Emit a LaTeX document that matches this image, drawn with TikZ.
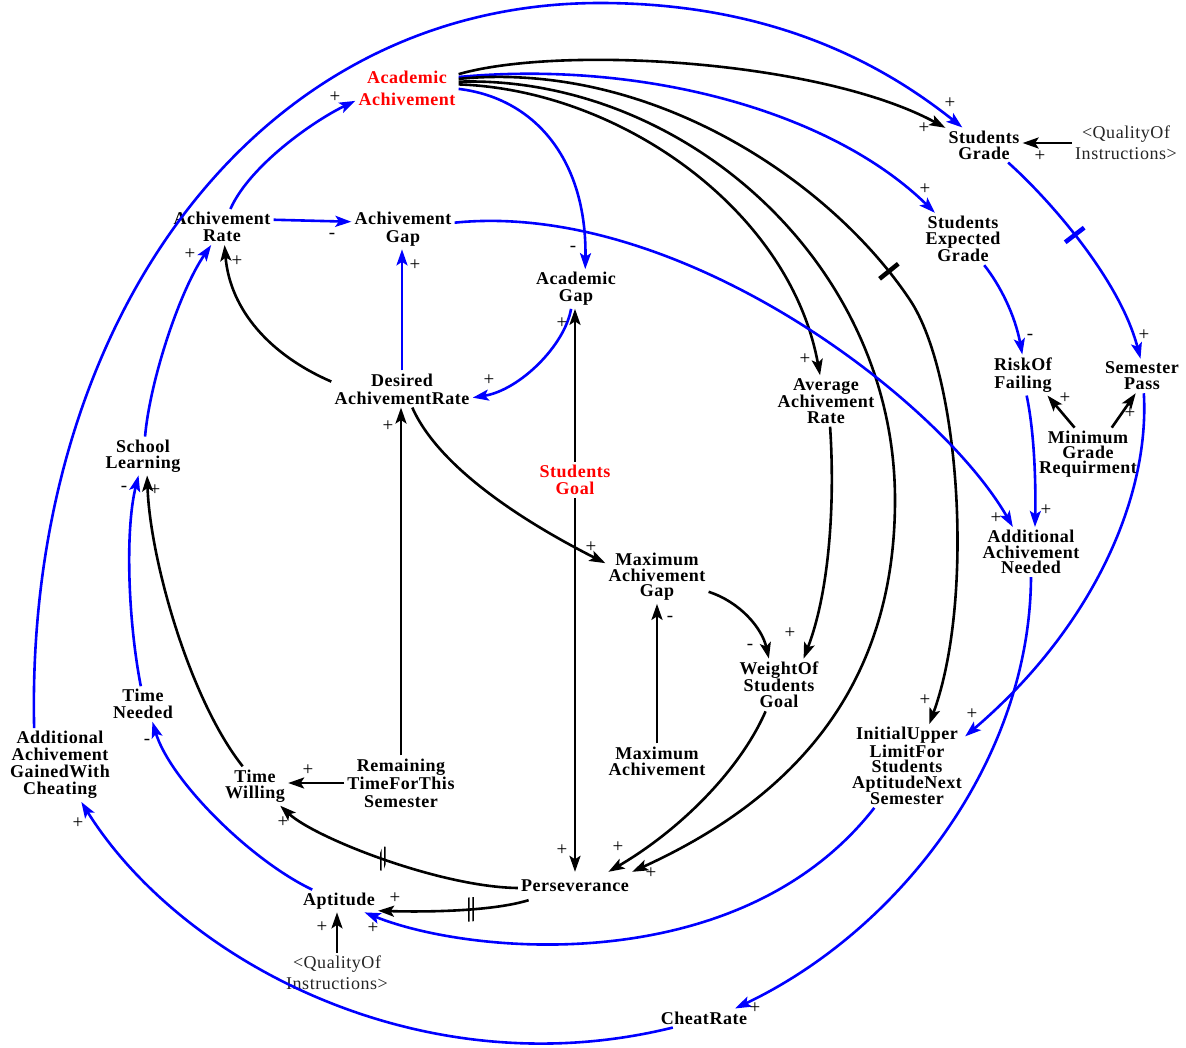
\documentclass[tikz,border=0pt]{standalone}
\usepackage{fontspec}
\setmainfont{Liberation Serif}[LetterSpace=3]
\usetikzlibrary{arrows.meta}
\definecolor{linkblue}{RGB}{0,0,255}
\definecolor{varred}{RGB}{255,0,0}
\newcommand\cldfont[1]{\fontsize{18}{#1}\selectfont\bfseries}
\begin{document}
\begin{tikzpicture}[x=1pt,y=-1pt,
  var/.style={align=center, inner sep=3pt, font=\cldfont{16}},
  shadowvar/.style={align=center, inner sep=3pt, font=\fontsize{18}{21}\selectfont, text=black!85},
  link/.style={line width=2.6pt, -{Stealth[length=16pt,width=11pt,inset=3.5pt]}},
  blk/.style={link, color=black},
  blu/.style={link, color=linkblue},
  pol/.style={font=\fontsize{19}{19}\selectfont, inner sep=0pt, text=black},
  delaybar/.style={sloped, fill, inner sep=0pt, minimum width=4.5pt, minimum height=24pt},
  delaypair/.style={sloped, inner sep=0pt, minimum width=9pt, minimum height=24pt,
    path picture={\draw[-, line width=1.5pt]
      ([xshift=-2.2pt]path picture bounding box.south) -- ([xshift=-2.2pt]path picture bounding box.north)
      ([xshift=2.2pt]path picture bounding box.south) -- ([xshift=2.2pt]path picture bounding box.north);}},
]
\useasboundingbox (0,0) rectangle (1186,1047);
\fill[white] (0,0) rectangle (1186,1047);

% ---------- variables ----------
\node[var, text=varred, font=\cldfont{22}] (AA) at (407,88) {Academic\\Achivement};
\node[var] (SG) at (984,145) {Students\\Grade};
\node[shadowvar] (QI1) at (1126,143) {<QualityOf\\Instructions>};
\node[var, font=\cldfont{17}] (AR) at (222,227) {Achivement\\Rate};
\node[var, font=\cldfont{18}] (AG) at (403,229) {Achivement\\Gap};
\node[var] (SEG) at (963,239) {Students\\Expected\\Grade};
\node[var, font=\cldfont{17}] (AcG) at (576,289) {Academic\\Gap};
\node[var, font=\cldfont{18}] (DAR) at (402,389) {Desired\\AchivementRate};
\node[var, font=\cldfont{18}] (RoF) at (1023,375) {RiskOf\\Failing};
\node[var, font=\cldfont{16}] (SP) at (1142,376) {Semester\\Pass};
\node[var, font=\cldfont{15.5}] (AAR) at (826,401) {Average\\Achivement\\Rate};
\node[var, font=\cldfont{15}] (MGR) at (1088,454) {Minimum\\Grade\\Requirment};
\node[var, font=\cldfont{16}] (SL) at (143,456) {School\\Learning};
\node[var, text=varred, font=\cldfont{17}] (SGoal) at (575,480) {Students\\Goal};
\node[var, font=\cldfont{15.5}] (AAN) at (1031,552) {Additional\\Achivement\\Needed};
\node[var, font=\cldfont{15.5}] (MAG) at (657,577) {Maximum\\Achivement\\Gap};
\node[var] (WSG) at (779,685) {WeightOf\\Students\\Goal};
\node[var, font=\cldfont{16.5}] (TN) at (143,704) {Time\\Needed};
\node[var, font=\cldfont{17}] (AAGC) at (60,765) {Additional\\Achivement\\GainedWith\\Cheating};
\node[var, font=\cldfont{15.75}] (IUL) at (907,766) {InitialUpper\\LimitFor\\Students\\AptitudeNext\\Semester};
\node[var] (MA) at (657,761) {Maximum\\Achivement};
\node[var, font=\cldfont{16.5}] (TW) at (255,786) {Time\\Willing};
\node[var, font=\cldfont{18}] (RT) at (401,783) {Remaining\\TimeForThis\\Semester};
\node[var, inner ysep=8pt] (Pers) at (575,886) {Perseverance};
\node[var] (Apt) at (339,901) {Aptitude};
\node[shadowvar] (QI2) at (337,973) {<QualityOf\\Instructions>};
\node[var] (CR) at (704,1018) {CheatRate};

% bend points of the long arcs
\coordinate (arcTop) at (600,3);
\coordinate (cBend) at (910,300);
\coordinate (bBend) at (895,500);

% ---------- links leaving Academic Achivement ----------
\draw[blk] (AA.15) .. controls (560,45) and (820,60) .. (SG.156);
\draw[blu] (AA.12) .. controls (640,60) and (830,110) .. (SEG.137);
\draw[blk] (AA.10) .. controls (650,60) and (830,180) .. node[pos=0.92, delaybar] (d2) {} (cBend)
                   .. controls (960,375) and (975,600) .. (IUL.62);
\draw[blk] (AA.7) .. controls (680,75) and (895,260) .. (bBend)
                  .. controls (895,690) and (790,800) .. (Pers.north east);
\draw[blk] (AA.4) .. controls (620,90) and (790,210) .. (AAR.103);
\draw[blu] (AA.-1) .. controls (535,98) and (587,160) .. (AcG.65);

% ---------- outer loop ----------
\draw[blu] (AAGC.125) .. controls (25,330) and (250,3) .. (arcTop)
                      .. controls (780,3) and (890,70) .. (SG.141);
\draw[blu] (CR.197) .. controls (420,1090) and (180,960) .. (AAGC.-60);
\draw[blu] (AAN.-90) .. controls (1030,760) and (900,930) .. (CR.17);

% ---------- left side ----------
\draw[blu] (AR.65) .. controls (250,165) and (315,120) .. (AA.194);
\draw[blu] (AR.8) -- (AG.172);
\draw[blu] (SL.84) .. controls (150,380) and (180,290) .. (AR.-121);
\draw[blk] (DAR.174) .. controls (270,355) and (230,310) .. (AR.-82);
\draw[blu] (DAR.north) -- (DAR.north |- AG.south);
\draw[blk] (RT.north) -- (RT.north |- DAR.south);
\draw[blk] (RT.west) -- (RT.west -| TW.east);
\draw[blk] (TW.122) .. controls (190,700) and (150,560) .. (SL.-78);
\draw[blu] (TN.97) .. controls (128,620) and (125,530) .. (SL.-103);
\draw[blu] (Apt.157) .. controls (250,860) and (170,780) .. (TN.-62);
\draw[blk] (QI2.north) -- (QI2.north |- Apt.south);
\draw[blk] (Pers.182) .. controls (440,887) and (315,838) .. node[pos=0.5, delaypair] (d3) {} (TW.-38);
\draw[blk] (Pers.197) .. controls (490,912) and (420,912) .. node[pos=0.4, delaypair] (d4) {} (Apt.-14);

% ---------- centre ----------
\draw[blu] (AG.7) .. controls (680,200) and (940,400) .. (AAN.126);
\draw[blu] (AcG.-104) .. controls (565,345) and (520,390) .. (DAR.-7);
\draw[blk] (SGoal.north) -- (SGoal.north |- AcG.south);
\draw[blk] (SGoal.south) -- (SGoal.south |- Pers.north);
\draw[blk] (DAR.-61) .. controls (440,470) and (530,525) .. (MAG.165);
\draw[blk] (MA.north) -- (MA.north |- MAG.south);
\draw[blk] (MAG.-16) .. controls (740,602) and (762,628) .. (WSG.111);
\draw[blk] (AAR.-81) .. controls (835,500) and (830,590) .. (WSG.47);
\draw[blk] (WSG.-117) .. controls (740,770) and (680,830) .. (Pers.23);
\draw[blu] (IUL.-128) .. controls (740,980) and (470,955) .. (Apt.-24);

% ---------- right side ----------
\draw[blk] (QI1.west) -- (QI1.west -| SG.east);
\draw[blu] (SG.-36) .. controls (1050,200) and (1120,280) .. node[pos=0.45, delaybar] (d1) {} (SP.95);
\draw[blu] (SEG.-51) .. controls (1000,285) and (1015,315) .. (RoF.92);
\draw[blk] (MGR.117) -- (RoF.-40);
\draw[blk] (MGR.48) -- (SP.-110);
\draw[blu] (RoF.-80) .. controls (1034,430) and (1036,480) .. (AAN.81);
\draw[blu] (SP.-84) .. controls (1150,500) and (1090,630) .. (IUL.27);

% ---------- link polarities ----------
\node[pol] (s1) at (335,97) {+};
\node[pol] (s2) at (332,236) {-};
\node[pol] (s3) at (950,103) {+};
\node[pol] (s4) at (924,128) {+};
\node[pol] (s5) at (1040,156) {+};
\node[pol] (s6) at (925,189) {+};
\node[pol] (s7) at (573,249) {-};
\node[pol] (s8) at (415,265) {+};
\node[pol] (s9) at (190,254) {+};
\node[pol] (s10) at (237,261) {+};
\node[pol] (s11) at (562,323) {+};
\node[pol] (s12) at (489,380) {+};
\node[pol] (s13) at (388,426) {+};
\node[pol] (s14) at (1030,337) {-};
\node[pol] (s15) at (1144,335) {+};
\node[pol] (s16) at (805,359) {+};
\node[pol] (s17) at (1065,398) {+};
\node[pol] (s18) at (1130,413) {+};
\node[pol] (s19) at (124,489) {-};
\node[pol] (s20) at (155,490) {+};
\node[pol] (s21) at (996,518) {+};
\node[pol] (s22) at (1046,510) {+};
\node[pol] (s23) at (591,547) {+};
\node[pol] (s24) at (670,619) {-};
\node[pol] (s25) at (790,633) {+};
\node[pol] (s26) at (750,647) {-};
\node[pol] (s27) at (925,700) {+};
\node[pol] (s28) at (972,714) {+};
\node[pol] (s29) at (147,742) {-};
\node[pol] (s30) at (308,770) {+};
\node[pol] (s31) at (78,823) {+};
\node[pol] (s32) at (283,822) {+};
\node[pol] (s33) at (562,850) {+};
\node[pol] (s34) at (618,847) {+};
\node[pol] (s35) at (651,873) {+};
\node[pol] (s36) at (395,898) {+};
\node[pol] (s37) at (322,927) {+};
\node[pol] (s38) at (373,928) {+};
\node[pol] (s39) at (755,1008) {+};
\end{tikzpicture}
\end{document}
